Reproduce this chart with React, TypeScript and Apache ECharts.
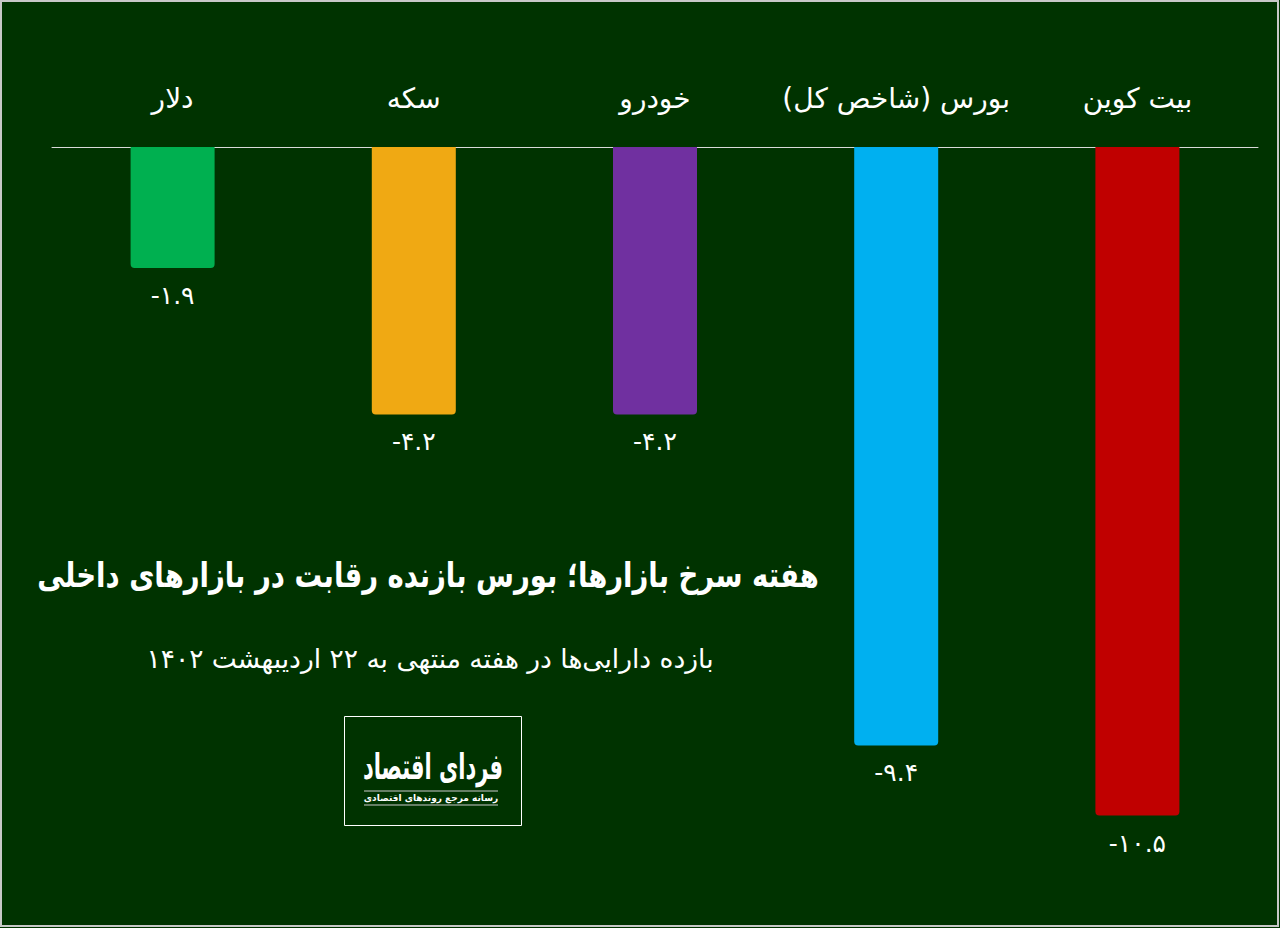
import React, { useEffect, useRef } from "react";
import * as echarts from "echarts";

const categories = ["دلار", "سکه", "خودرو", "بورس (شاخص کل)", "بیت کوین"];
const values = [-1.9, -4.2, -4.2, -9.4, -10.5];
const valueLabels = ["-۱.۹", "-۴.۲", "-۴.۲", "-۹.۴", "-۱۰.۵"];
const barColors = ["#00B050", "#F0A913", "#7030A0", "#00B0F0", "#C00000"];
const titleText = "هفته سرخ بازارها؛ بورس بازنده رقابت در بازارهای داخلی";
const subtitleText = "بازده دارایی‌ها در هفته منتهی به ۲۲ اردیبهشت ۱۴۰۲";
const logoMain = "فردای اقتصاد";
const logoSub = "رسانه مرجع روندهای اقتصادی";

const RLM = "\u200F";
const FONT = "'DejaVu Sans', 'Noto Sans', sans-serif";

export default function App() {
  const ref = useRef<HTMLDivElement>(null);
  useEffect(() => {
    if (!ref.current) return;
    const chart = echarts.init(ref.current, undefined, { renderer: "svg" });
    chart.setOption({
      animation: false,
      backgroundColor: "#003300",
      textStyle: { fontFamily: FONT },
      grid: { left: 52, right: 22, top: 147, bottom: 17 },
      xAxis: {
        type: "category",
        position: "top",
        data: categories.map((c) => c + RLM),
        axisLine: { show: true, lineStyle: { color: "#d9d9d9", width: 1 } },
        axisTick: { show: false },
        axisLabel: { color: "#ffffff", fontSize: 28, margin: 35, interval: 0, fontFamily: FONT },
      },
      yAxis: {
        type: "value",
        min: -12,
        max: 0,
        show: false,
        splitLine: { show: false },
      },
      series: [
        {
          type: "bar",
          barWidth: 84,
          data: values.map((v, i) => ({
            value: v,
            itemStyle: { color: barColors[i], borderRadius: [0, 0, 4, 4] },
          })),
          label: {
            show: true,
            position: "bottom",
            distance: 15,
            color: "#ffffff",
            fontSize: 25,
            fontFamily: FONT,
            formatter: (p: any) => valueLabels[p.dataIndex],
          },
        },
      ],
      graphic: [
        {
          type: "rect",
          shape: { x: 1, y: 1, width: 1277, height: 925 },
          style: { fill: "none", stroke: "#c8c8c8", lineWidth: 2 },
          silent: true,
        },
        {
          type: "text",
          x: 428,
          y: 575,
          scaleY: 1.25,
          style: {
            text: titleText + RLM,
            fill: "#ffffff",
            font: `bold 27.5px ${FONT}`,
            textAlign: "center",
            textVerticalAlign: "middle",
          },
        },
        {
          type: "text",
          x: 430,
          y: 658,
          style: {
            text: subtitleText + RLM,
            fill: "#ffffff",
            font: `26.5px ${FONT}`,
            textAlign: "center",
            textVerticalAlign: "middle",
          },
        },
        {
          type: "rect",
          shape: { x: 344.5, y: 716.5, width: 177, height: 109 },
          style: { fill: "none", stroke: "#ffffff", lineWidth: 1 },
        },
        {
          type: "text",
          x: 433,
          y: 767,
          scaleY: 1.7,
          style: {
            text: logoMain + RLM,
            fill: "#ffffff",
            font: `bold 21px ${FONT}`,
            textAlign: "center",
            textVerticalAlign: "middle",
          },
        },
        {
          type: "line",
          shape: { x1: 364, y1: 791, x2: 498, y2: 791 },
          style: { stroke: "#cccccc", lineWidth: 1 },
        },
        {
          type: "text",
          x: 431,
          y: 798,
          style: {
            text: logoSub + RLM,
            fill: "#ffffff",
            font: `bold 9px ${FONT}`,
            textAlign: "center",
            textVerticalAlign: "middle",
          },
        },
        {
          type: "line",
          shape: { x1: 364, y1: 805, x2: 498, y2: 805 },
          style: { stroke: "#cccccc", lineWidth: 1 },
        },
      ],
    });
    return () => chart.dispose();
  }, []);
  return (
    <div
      ref={ref}
      style={{ position: "fixed", left: 0, top: 0, width: 1280, height: 928 }}
    />
  );
}
